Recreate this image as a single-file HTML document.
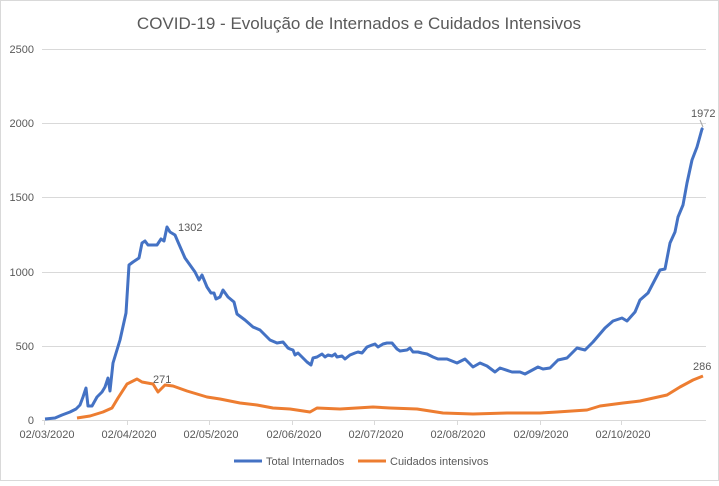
<!DOCTYPE html>
<html><head><meta charset="utf-8"><style>
body{margin:0;background:#fff}
svg text{font-family:"Liberation Sans",Arial,sans-serif;fill:#595959}
</style></head><body>
<svg width="719" height="481" viewBox="0 0 719 481" xmlns="http://www.w3.org/2000/svg">
<rect x="0.5" y="0.5" width="718" height="480" fill="#fff" stroke="#d9d9d9"/>
<text x="359" y="29" font-size="17" text-anchor="middle">COVID-19 - Evolução de Internados e Cuidados Intensivos</text>
<g stroke="#d9d9d9" stroke-width="1">
<line x1="42" x2="706" y1="49.5" y2="49.5"/><line x1="42" x2="706" y1="123.5" y2="123.5"/>
<line x1="42" x2="706" y1="197.5" y2="197.5"/><line x1="42" x2="706" y1="272.5" y2="272.5"/>
<line x1="42" x2="706" y1="346.5" y2="346.5"/><line x1="42" x2="706" y1="420.5" y2="420.5"/>
<line x1="44.5" x2="44.5" y1="420" y2="425"/><line x1="127.5" x2="127.5" y1="420" y2="425"/>
<line x1="209.5" x2="209.5" y1="420" y2="425"/><line x1="292.5" x2="292.5" y1="420" y2="425"/>
<line x1="374.5" x2="374.5" y1="420" y2="425"/><line x1="457.5" x2="457.5" y1="420" y2="425"/>
<line x1="540.5" x2="540.5" y1="420" y2="425"/><line x1="621.5" x2="621.5" y1="420" y2="425"/>
</g>
<g font-size="11" text-anchor="end">
<text x="34" y="53">2500</text><text x="34" y="127">2000</text><text x="34" y="201">1500</text>
<text x="34" y="276">1000</text><text x="34" y="350">500</text><text x="34" y="424">0</text>
</g>
<g font-size="11" text-anchor="middle">
<text x="47" y="438">02/03/2020</text><text x="129" y="438">02/04/2020</text><text x="211" y="438">02/05/2020</text>
<text x="294" y="438">02/06/2020</text><text x="376" y="438">02/07/2020</text><text x="458" y="438">02/08/2020</text>
<text x="541" y="438">02/09/2020</text><text x="623" y="438">02/10/2020</text>
</g>
<polyline fill="none" stroke="#4472c4" stroke-width="3" stroke-linejoin="round" points="45,419 55,418 62,415 70,412 76,409 80,405 83,397 86,388 88,406 92,406 97,397 102,392 105,387 108,378 110,391 113,363 120,340 126,313 129,265 133,262 139,258 142,243 145,241 148,245 157,245 161,239 164,241 167,227 170,232 175,235 178,242 185,258 195,272 199,280 202,275 207,287 211,293 214,293 216,299 220,297 223,290 228,297 234,302 237,314 245,320 253,327 260,330 270,340 277,343 283,342 288,348 290,349 293,350 295,355 298,353 302,357 307,362 311,365 313,358 317,357 322,354 325,357 328,355 332,356 335,354 337,357 342,356 345,359 350,355 355,353 358,352 362,353 367,347 372,345 375,344 378,347 383,344 387,343 392,343 397,349 400,351 407,350 410,348 413,352 418,352 422,353 427,354 433,357 438,359 447,359 457,363 465,359 473,367 480,363 487,366 495,372 500,368 512,372 520,372 525,374 538,367 543,369 550,368 558,360 567,358 577,348 585,350 593,342 605,328 613,321 622,318 627,321 635,312 640,300 648,293 660,270 665,269 670,243 675,232 678,217 683,205 687,183 692,160 697,147 702,129 703,128"/>
<polyline fill="none" stroke="#ed7d31" stroke-width="3" stroke-linejoin="round" points="77,418 90,416 103,412 112,408 118,398 127,384 137,379 142,382 153,384 158,392 165,385 173,386 187,391 207,397 220,399 240,403 257,405 273,408 290,409 310,412 317,408 340,409 373,407 390,408 417,409 430,411 443,413 473,414 507,413 540,413 557,412 587,410 600,406 623,403 640,401 667,395 680,387 693,380 703,376"/>
<g font-size="11" fill="#404040">
<text x="178" y="231">1302</text><text x="153" y="383">271</text>
<text x="691" y="117">1972</text><text x="693" y="370">286</text>
</g>
<line x1="700" y1="120" x2="703" y2="127" stroke="#a6a6a6"/>
<line x1="234" y1="461" x2="262" y2="461" stroke="#4472c4" stroke-width="3"/>
<text x="266" y="465" font-size="11">Total Internados</text>
<line x1="358" y1="461" x2="386" y2="461" stroke="#ed7d31" stroke-width="3"/>
<text x="390" y="465" font-size="11">Cuidados intensivos</text>
</svg>
</body></html>
